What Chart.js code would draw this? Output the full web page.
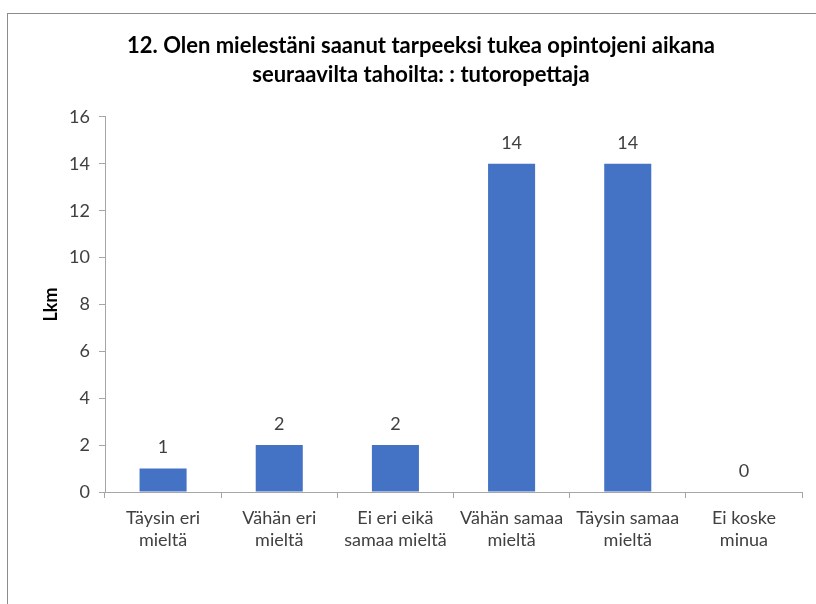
<!DOCTYPE html>
<html>
<head>
<meta charset="utf-8">
<script src="https://cdn.jsdelivr.net/npm/chart.js@4/dist/chart.umd.min.js"></script>
<style>
  html, body { margin: 0; padding: 0; background: #fff; }
  #wrap { position: relative; width: 816px; height: 604px; overflow: hidden; }
  #frame { position: absolute; left: 7px; top: 13px; width: 820px; height: 600px;
           border-top: 1px solid #8c8c8c; border-left: 1px solid #8c8c8c; }
  canvas { position: absolute; left: 0; top: 0; }
</style>
</head>
<body>
<div id="wrap">
  <div id="frame"></div>
  <canvas id="c" width="816" height="604"></canvas>
</div>
<script>
const titleLines = [
  '12. Olen mielestäni saanut tarpeeksi tukea opintojeni aikana',
  'seuraavilta tahoilta: : tutoropettaja'
];
const categories = [
  ['Täysin eri', 'mieltä'],
  ['Vähän eri', 'mieltä'],
  ['Ei eri eikä', 'samaa mieltä'],
  ['Vähän samaa', 'mieltä'],
  ['Täysin samaa', 'mieltä'],
  ['Ei koske', 'minua']
];
const counts = [1, 2, 2, 14, 14, 0];
const yAxisTitle = 'Lkm';

const FONT = 'Lato, "Open Sans", sans-serif';
const AXIS_GRAY = '#a6a6a6';
const TEXT_GRAY = '#404040';

// Writes each bar's count above it.
const valueLabels = {
  id: 'valueLabels',
  afterDatasetsDraw(chart) {
    const ctx = chart.ctx;
    const meta = chart.getDatasetMeta(0);
    ctx.save();
    ctx.font = '18px ' + FONT;
    ctx.fillStyle = TEXT_GRAY;
    ctx.textAlign = 'center';
    ctx.textBaseline = 'middle';
    meta.data.forEach((bar, i) => {
      ctx.fillText(String(counts[i]), bar.x, bar.y - 21);
    });
    ctx.restore();
  }
};

new Chart(document.getElementById('c'), {
  type: 'bar',
  data: {
    labels: categories,
    datasets: [{
      data: counts,
      backgroundColor: '#4472C4',
      borderWidth: 0,
      barPercentage: 0.405,
      categoryPercentage: 1.0
    }]
  },
  options: {
    responsive: false,
    animation: false,
    events: [],
    layout: { padding: { left: 40, right: 14, top: 0, bottom: 0 } },
    plugins: {
      legend: { display: false },
      tooltip: { enabled: false },
      title: {
        display: true,
        text: titleLines,
        color: '#000',
        font: { family: FONT, size: 22, weight: 'bold', lineHeight: 1.318 },
        padding: { top: 31.5, bottom: 27.5 }
      }
    },
    scales: {
      x: {
        afterFit(scale) { scale.height = 112; },
        grid: {
          offset: true,
          drawOnChartArea: false,
          drawTicks: true,
          tickLength: 6,
          color: AXIS_GRAY
        },
        border: { display: true, color: AXIS_GRAY, width: 1 },
        ticks: {
          autoSkip: false,
          maxRotation: 0,
          padding: 9,
          color: TEXT_GRAY,
          font: { family: FONT, size: 18, lineHeight: 1.222 }
        }
      },
      y: {
        min: 0,
        max: 16,
        afterFit(scale) { scale.width = 65; },
        grid: {
          drawOnChartArea: false,
          drawTicks: true,
          tickLength: 6,
          color: AXIS_GRAY
        },
        border: { display: true, color: AXIS_GRAY, width: 1 },
        ticks: {
          stepSize: 2,
          padding: 9,
          color: TEXT_GRAY,
          font: { family: FONT, size: 18 }
        },
        title: {
          display: true,
          text: yAxisTitle,
          color: '#000',
          padding: 0,
          font: { family: FONT, size: 18, weight: 'bold', lineHeight: 1.2 }
        }
      }
    }
  },
  plugins: [valueLabels]
});
</script>
</body>
</html>
